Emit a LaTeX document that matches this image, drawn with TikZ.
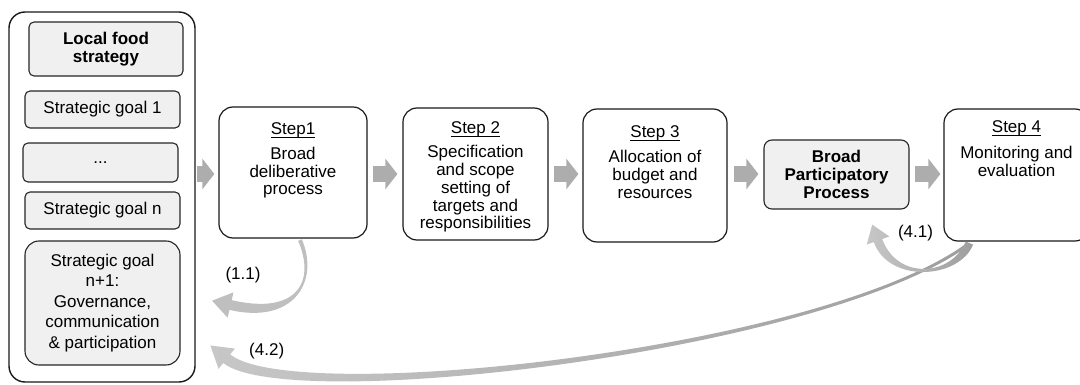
\documentclass[tikz,border=0pt]{standalone}
\usepackage{fontspec}
\setmainfont{Liberation Sans}
\usetikzlibrary{arrows.meta,calc}

\newcommand\ulstep[1]{\setbox0\hbox{#1}\rlap{\rule[-2.6pt]{\wd0}{0.9pt}}\box0}

% tapered curved arrow: #1..#4 Bezier points, #5 start half width, #6 end half width,
% #7 head half width, #8 head length, #9 style
\newcommand\taper[9]{%
  \path[#9] ($(#1)!#5!90:(#2)$) .. controls ($(#2)!#5!-90:(#1)$) and ($(#3)!#6!90:(#4)$) .. ($(#4)!#6!-90:(#3)$)
    -- ($(#4)!#7!-90:(#3)$) -- ($(#4)!-#8!(#3)$) -- ($(#4)!#7!90:(#3)$) -- ($(#4)!#6!90:(#3)$)
    .. controls ($(#3)!#6!-90:(#4)$) and ($(#2)!#5!90:(#1)$) .. ($(#1)!#5!-90:(#2)$) -- cycle;}

\tikzset{
  normalfont/.style={font=\fontsize{17}{17.8}\selectfont},
  boldfont/.style={font=\fontsize{17}{17.8}\selectfont\bfseries},
  txt/.style={normalfont, align=center, inner sep=0pt},
  outerbox/.style={draw=black!90, line width=1.4pt, rounded corners=16pt, fill=white, inner sep=0pt},
  goalbox/.style={draw=black!85, line width=1.1pt, rounded corners=5pt, fill=black!6, inner sep=0pt, align=center, normalfont},
  stepbox/.style={draw=black!90, line width=1.2pt, rounded corners=14pt, fill=white, inner sep=0pt},
  blockarrow/.style={draw=black!32, line width=16pt, -{Triangle[width=30pt,length=12pt]}},
  loopa/.style={fill=black!25},
  loopb/.style={left color=black!22, right color=black!38},
  lbl/.style={normalfont, inner sep=0pt}
}

\begin{document}
\begin{tikzpicture}[x=1pt,y=-1pt]
\useasboundingbox (0,0) rectangle (1080,385);
\clip (0,0) rectangle (1080,385);

% left column
\node[outerbox, minimum width=186pt, minimum height=370pt] (outer) at (102,197) {};
\node[goalbox, boldfont, minimum width=154pt, minimum height=54pt] (lfs) at (106,49) {Local food\\strategy};
\node[goalbox, minimum width=155pt, minimum height=37pt] (g1) at (102.5,109.5) {Strategic goal 1};
\node[goalbox, minimum width=155pt, minimum height=39pt] (gdots) at (100.5,162.5) {...};
\node[goalbox, minimum width=155pt, minimum height=37pt] (gn) at (102.5,210.5) {Strategic goal n};
\node[goalbox, rounded corners=14pt, minimum width=155pt, minimum height=124pt,
      font=\fontsize{17}{20.5}\selectfont] (gn1) at (102.5,303)
      {Strategic goal\\n+1:\\Governance,\\communication\\\& participation};

% steps
\node[stepbox, minimum width=148pt, minimum height=131pt] (s1) at (293,172.5) {};
\node[txt, anchor=north] (t1) at ($(s1.north)+(0,16.5)$) {\ulstep{Step1}\\[6.5pt]Broad\\deliberative\\process};

\node[stepbox, minimum width=145pt, minimum height=132pt] (s2) at (475.5,174) {};
\node[txt, anchor=north] (t2) at ($(s2.north)+(0,14.5)$) {\ulstep{Step 2}\\[6pt]Specification\\and scope\\setting of\\targets and\\responsibilities};

\node[stepbox, minimum width=144pt, minimum height=133pt] (s3) at (655,175.5) {};
\node[txt, anchor=north] (t3) at ($(s3.north)+(0,17.5)$) {\ulstep{Step 3}\\[7pt]Allocation of\\budget and\\resources};

\node[goalbox, boldfont, rounded corners=8pt, minimum width=145pt, minimum height=69pt] (bpp) at (836.5,174.5) {Broad\\Participatory\\Process};

\node[stepbox, minimum width=145pt, minimum height=132pt] (s4) at (1016.5,175) {};
\node[txt, anchor=north] (t4) at ($(s4.north)+(0,12.5)$) {\ulstep{Step 4}\\[8pt]Monitoring and\\evaluation};

% block arrows
\draw[blockarrow] ($(outer.east|-s1.west)+(1,1.5)$) -- ($(s1.west)+(-4,1.5)$);
\draw[blockarrow] ($(s1.east)+(5,1.5)$) -- ($(s2.west)+(-5,0)$);
\draw[blockarrow] ($(s2.east)+(5,0)$) -- ($(s3.west)+(-4,-1.5)$);
\draw[blockarrow] ($(s3.east)+(6,-1.5)$) -- ($(bpp.west)+(-5,-0.5)$);
\draw[blockarrow] ($(bpp.east)+(5,-0.5)$) -- ($(s4.west)+(-3,-1)$);

% curved feedback arrows
\coordinate (p11a) at ($(s1.south)+(7,1.5)$);
\coordinate (p11b) at (318,282);
\coordinate (p11c) at (295,320);
\coordinate (p11d) at ($(gn1.east)+(50,2)$);
\taper{p11a}{p11b}{p11c}{p11d}{2pt}{5pt}{13pt}{19pt}{loopa}

\coordinate (p42a) at ($(s4.south west)+(24,3)$);
\coordinate (p42b) at (820,352);
\coordinate (p42c) at (290,410);
\coordinate (p42d) at ($(outer.south east)+(31,-24)$);
\taper{p42a}{p42b}{p42c}{p42d}{1.5pt}{5.5pt}{13pt}{21pt}{loopb}

\coordinate (p41a) at ($(s4.south west)+(26,1.5)$);
\coordinate (p41b) at (955,278);
\coordinate (p41c) at (893,282);
\coordinate (p41d) at ($(bpp.south)+(41.5,31)$);
\taper{p41a}{p41b}{p41c}{p41d}{4pt}{4.5pt}{12pt}{17pt}{loopb}

% labels
\node[lbl] (l11) at ($(s1.south)+(-50,36)$) {(1.1)};
\node[lbl] (l41) at ($(bpp.south east)+(6,24)$) {(4.1)};
\node[lbl] (l42) at ($(outer.south east)+(71,-32)$) {(4.2)};
\end{tikzpicture}
\end{document}
